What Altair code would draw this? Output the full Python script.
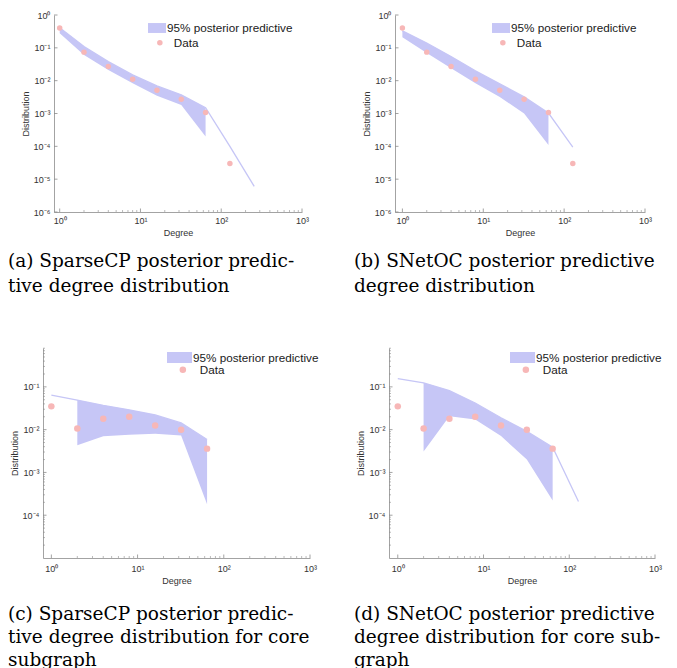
import altair as alt
import pandas as pd

# ---------------- data ----------------
DEG_FULL = [1, 2, 4, 8, 16, 32, 64, 128]
DATA_FULL = [0.40, 0.074, 0.027, 0.011, 0.0051, 0.0027, 0.00107, 3.0e-5]

A_X = [1, 2, 4, 8, 16, 32, 64, 128, 256]
A_HI = [0.41, 0.11, 0.038, 0.015, 0.0069, 0.0037, 0.0015, 1.0e-4, 6.0e-6]
A_LO = [0.28, 0.06, 0.021, 0.0083, 0.0035, 0.0018, 2.0e-4, 0, 0]

B_X = [1, 2, 4, 8, 16, 32, 64, 128]
B_HI = [0.33, 0.14, 0.054, 0.020, 0.0080, 0.0032, 0.00103, 9.5e-5]
B_LO = [0.21, 0.069, 0.024, 0.0083, 0.0032, 0.0010, 1.1e-4, 0]

DEG_CORE = [1, 2, 4, 8, 16, 32, 64]
DATA_CORE = [0.035, 0.0107, 0.018, 0.020, 0.0125, 0.010, 0.0036]

C_X = [1, 2, 4, 8, 16, 32, 64]
C_HI = [0.064, 0.049, 0.037, 0.029, 0.022, 0.0144, 0.0059]
C_LO = [0, 0.0043, 0.0070, 0.0076, 0.0080, 0.0073, 1.8e-4]

D_X = [1, 2, 4, 8, 16, 32, 64, 128]
D_HI = [0.156, 0.124, 0.082, 0.042, 0.019, 0.0091, 0.0039, 2.1e-4]
D_LO = [0, 0.0031, 0.0205, 0.0172, 0.0071, 0.0020, 2.2e-4, 0]

X_MAJOR = [1, 10, 100, 1000]
X_MINOR = [2, 3, 4, 5, 6, 7, 8, 9, 20, 30, 40, 50, 60, 70, 80, 90,
           200, 300, 400, 500, 600, 700, 800, 900]
Y_MAJOR_FULL = [1e-6, 1e-5, 1e-4, 1e-3, 1e-2, 1e-1, 1]
Y_MAJOR_CORE = [1e-4, 1e-3, 1e-2, 1e-1]
Y_MINOR_CORE = [m * 10.0 ** e for e in range(-5, 0) for m in range(2, 10)
                if m * 10.0 ** e <= 0.8]

LEG_BAND = "95% posterior predictive"
LEG_DATA = "Data"

CAP_A = ["(a) SparseCP posterior predic-", "tive degree distribution"]
CAP_B = ["(b) SNetOC posterior predictive", "degree distribution"]
CAP_C = ["(c) SparseCP posterior predic-", "tive degree distribution for core", "subgraph"]
CAP_D = ["(d) SNetOC posterior predictive", "degree distribution for core sub-", "graph"]

# ---------------- style ----------------
BAND = "#c6c6f6"
PINK = "#f7b7b7"
AXC = "#8c8c8c"
TXT = "#333333"
SANS = "Liberation Sans"
SERIF = "DejaVu Serif"

SUP = {"0": "⁰", "1": "¹", "2": "²", "3": "³", "4": "⁴", "5": "⁵",
       "6": "⁶", "7": "⁷", "8": "⁸", "9": "⁹", "-": "⁻"}


def sup_label_expr():
    e = "round(log(datum.value)/LN10)"
    parts = []
    for k in range(-6, 4):
        s = "".join(SUP[c] for c in str(k))
        parts.append(f"{e} == {k} ? '10{s}'")
    return " : ".join(parts) + " : ''"


LBL = sup_label_expr()

RECT_PATH_A = "M-1,-0.55L1,-0.55L1,0.55L-1,0.55Z"
RECT_PATH_C = "M-1,-0.44L1,-0.44L1,0.44L-1,0.44Z"


def panel(xs, hi, lo, deg, dat, xdom, ydom, ymajor, yminor, W, H,
          leg, caption, cap_dx, cap_off, cap_lh, pt_size, xlab_pad):
    xscale = alt.Scale(type="log", domain=xdom, nice=False, zero=False)
    yscale = alt.Scale(type="log", domain=ydom, nice=False, zero=False)
    xaxis = alt.Axis(values=X_MAJOR, labelExpr=LBL, ticks=False, grid=False,
                     domainColor=AXC, domainWidth=0.8, labelFont=SANS,
                     labelFontSize=9, labelColor=TXT, labelPadding=xlab_pad,
                     labelFlush=False, labelOverlap=False,
                     title="Degree", titleFont=SANS, titleFontSize=9,
                     titleFontWeight="normal", titleColor=TXT, titlePadding=3)
    yaxis = alt.Axis(values=ymajor, labelExpr=LBL, ticks=False, grid=False,
                     domainColor=AXC, domainWidth=0.8, labelFont=SANS,
                     labelFontSize=9, labelColor=TXT, labelPadding=4,
                     labelFlush=False, labelOverlap=False,
                     title="Distribution", titleFont=SANS, titleFontSize=9,
                     titleFontWeight="normal", titleColor=TXT, titlePadding=3)

    def X(f):
        return alt.X(f"{f}:Q", scale=xscale, axis=xaxis)

    def Y(f):
        return alt.Y(f"{f}:Q", scale=yscale, axis=yaxis)

    band = pd.DataFrame({"x": xs, "hi": hi, "lo": lo, "s": LEG_BAND})
    band_area = band[band["lo"] > 0]
    pts = pd.DataFrame({"x": deg, "y": dat, "s": LEG_DATA})

    area = alt.Chart(band_area).mark_area(opacity=1, interpolate="linear").encode(
        x=X("x"), y=Y("lo"), y2="hi:Q",
        fill=alt.Fill("s:N", scale=alt.Scale(domain=[LEG_BAND], range=[BAND]),
                      legend=alt.Legend(orient="none", legendX=leg["bx"], legendY=leg["by"],
                                        title=None, symbolType=leg["path"],
                                        symbolSize=leg["bsize"], symbolStrokeWidth=0,
                                        symbolOpacity=1, labelFont=SANS,
                                        labelFontSize=11.7, labelColor="#1a1a1a",
                                        labelOffset=leg["boff"], padding=0)))
    line = alt.Chart(band).mark_line(color=BAND, strokeWidth=1.3).encode(
        x=X("x"), y=Y("hi"))
    points = alt.Chart(pts).mark_point(filled=True, opacity=1, size=pt_size).encode(
        x=X("x"), y=Y("y"),
        color=alt.Color("s:N", scale=alt.Scale(domain=[LEG_DATA], range=[PINK]),
                        legend=alt.Legend(orient="none", legendX=leg["dx"], legendY=leg["dy"],
                                          title=None, symbolType="circle",
                                          symbolSize=leg["dsize"], symbolStrokeWidth=0,
                                          symbolOpacity=1, labelFont=SANS,
                                          labelFontSize=11.7, labelColor="#1a1a1a",
                                          labelOffset=leg["doff"], padding=0)))

    xt_major = alt.Chart(pd.DataFrame({"x": X_MAJOR})).mark_rule(
        color=AXC, strokeWidth=0.8).encode(x=X("x"), y=alt.value(H), y2=alt.value(H - 3.5))
    xt_minor = alt.Chart(pd.DataFrame({"x": X_MINOR})).mark_rule(
        color=AXC, strokeWidth=0.6).encode(x=X("x"), y=alt.value(H), y2=alt.value(H - 2))
    yt_major = alt.Chart(pd.DataFrame({"y": ymajor})).mark_rule(
        color=AXC, strokeWidth=0.8).encode(y=Y("y"), x=alt.value(0), x2=alt.value(3.5))
    layers = [area, line, points, xt_major, xt_minor, yt_major]
    if yminor:
        yt_minor = alt.Chart(pd.DataFrame({"y": yminor})).mark_rule(
            color=AXC, strokeWidth=0.6).encode(y=Y("y"), x=alt.value(0), x2=alt.value(2))
        layers.append(yt_minor)

    return alt.layer(*layers).properties(
        width=W, height=H,
        title=alt.TitleParams(text=caption, orient="bottom", anchor="start", frame="group",
                              font=SERIF, fontSize=18.5, fontWeight="normal", color="#000000",
                              lineHeight=cap_lh, baseline="top", dx=cap_dx, offset=cap_off)
    ).resolve_scale(fill="independent", color="independent")


LEG_A = dict(bx=94, by=4, path=RECT_PATH_A, bsize=324, boff=1,
             dx=100, dy=22, dsize=30, doff=8)
LEG_B = dict(bx=97, by=4, path=RECT_PATH_A, bsize=324, boff=1,
             dx=102, dy=22, dsize=30, doff=8)
LEG_C = dict(bx=124, by=-3, path=RECT_PATH_C, bsize=625, boff=1,
             dx=134, dy=16, dsize=42, doff=11)
LEG_D = dict(bx=121, by=-3, path=RECT_PATH_C, bsize=625, boff=1,
             dx=131, dy=16, dsize=42, doff=11)

pa = panel(A_X, A_HI, A_LO, DEG_FULL, DATA_FULL, [0.85, 1000], [1e-6, 1],
           Y_MAJOR_FULL, None, 248, 197, LEG_A, CAP_A, -46, 15, 24.5, 30, 4)
pb = panel(B_X, B_HI, B_LO, DEG_FULL, DATA_FULL, [0.81, 1000], [1e-6, 1],
           Y_MAJOR_FULL, None, 250, 197, LEG_B, CAP_B, -41, 15, 24.5, 30, 4)
pc = panel(C_X, C_HI, C_LO, DEG_CORE, DATA_CORE, [0.80, 1000], [1e-5, 0.81],
           Y_MAJOR_CORE, Y_MINOR_CORE, 267, 210, LEG_C, CAP_C, -35, 19, 23, 42, 6.5)
pd_ = panel(D_X, D_HI, D_LO, DEG_CORE, DATA_CORE, [0.79, 1000], [1e-5, 0.81],
            Y_MAJOR_CORE, Y_MINOR_CORE, 266, 210, LEG_D, CAP_D, -35, 19, 23, 42, 6.5)

spacer = alt.Chart(pd.DataFrame({"v": [0]})).mark_point(opacity=0).encode(
    x=alt.value(0), y=alt.value(0)).properties(width=1, height=197)

row_ab = alt.hconcat(pa, pb, spacing=93, bounds="flush").resolve_scale(
    fill="independent", color="independent", x="independent", y="independent")
row1 = alt.hconcat(spacer, row_ab, spacing=10, bounds="flush").resolve_scale(
    fill="independent", color="independent", x="independent", y="independent")
row2 = alt.hconcat(pc, pd_, spacing=79, bounds="flush").resolve_scale(
    fill="independent", color="independent", x="independent", y="independent")

# nested flush groups count as zero height, so the spacing spans row 1 too
chart = alt.vconcat(row1, row2, spacing=333, bounds="flush").resolve_scale(
    fill="independent", color="independent", x="independent", y="independent"
).properties(
    autosize=alt.AutoSizeParams(type="none"),
    padding={"left": 35, "top": 7, "right": 626, "bottom": 653},
    background="white",
).configure_view(stroke=None)

chart.save("out.html", embed_options={"renderer": "svg", "actions": False})
